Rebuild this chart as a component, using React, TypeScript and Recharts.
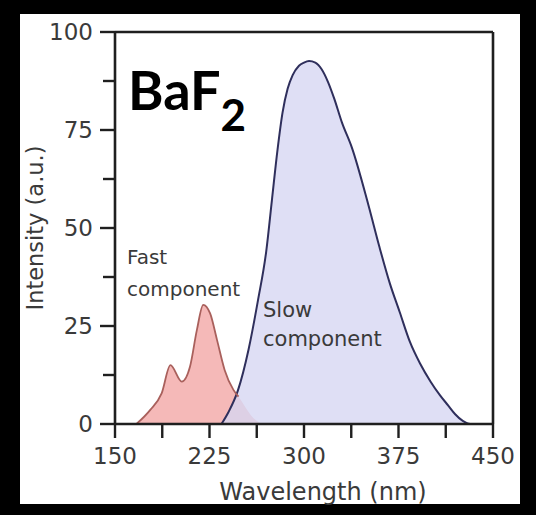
import React from 'react';
import { ComposedChart, Area, Line, XAxis, YAxis, ReferenceLine } from 'recharts';

// Fast (cross-luminescence) emission band of BaF2
const fastWavelength = [167, 178, 187, 194, 203, 209.5, 215, 220, 225.5, 231, 237, 244, 248, 253, 258, 263, 268];
const fastIntensity = [0, 3.6, 7.8, 15, 10.8, 14.6, 24, 30.4, 28.2, 21.4, 13.8, 8.7, 7, 4.5, 2.2, 0.7, 0];
// the fast outline disappears where the slow band covers it
const fastOutlineEnd = 248;

// Slow (self-trapped exciton) emission band
const slowWavelength = [234.5, 240, 247.5, 256, 263.5, 270, 274.5, 279, 283, 287, 291, 296, 300, 304, 309, 314, 319, 324, 330, 338, 351, 360, 368, 376, 384, 392, 400.5, 408, 414.5, 420, 426, 432, 450];
const slowIntensity = [0, 3, 8.5, 19, 31.6, 44, 57, 70, 79.5, 85.5, 89, 91.4, 92.2, 92.6, 92.2, 90.5, 87.3, 83, 77, 70.5, 56, 45, 36, 28.5, 21, 15.5, 10.8, 7.3, 4.7, 2.5, 0.8, 0, 0];

const xTicks = [150, 187.5, 225, 262.5, 300, 337.5, 375, 412.5, 450];
const xMajor = [150, 225, 300, 375, 450];
const yTicks = [0, 12.5, 25, 37.5, 50, 62.5, 75, 87.5, 100];
const yMajor = [0, 25, 50, 75, 100];

type Row = { w: number; fast?: number; fastLine?: number; slow?: number };

const rowMap = new Map<number, Row>();
fastWavelength.forEach((w, i) => {
  const r = rowMap.get(w) ?? { w };
  r.fast = fastIntensity[i];
  if (w <= fastOutlineEnd) r.fastLine = fastIntensity[i];
  rowMap.set(w, r);
});
slowWavelength.forEach((w, i) => {
  const r = rowMap.get(w) ?? { w };
  r.slow = slowIntensity[i];
  rowMap.set(w, r);
});
const rows = Array.from(rowMap.values()).sort((a, b) => a.w - b.w);

const AXIS = '#1f1f1f';
const TEXT = '#3a3a3a';
const FONT = '"DejaVu Sans", sans-serif';

const XTick = (props: any) => {
  const { x, y, payload } = props;
  const major = xMajor.includes(payload.value);
  return (
    <g>
      <line x1={x} x2={x} y1={y} y2={y + 14} stroke={AXIS} strokeWidth={2.4} />
      {major && (
        <text x={x} y={y + 40} textAnchor="middle" fontSize={23} fontFamily={FONT} fill={TEXT}>
          {payload.value}
        </text>
      )}
    </g>
  );
};

const YTick = (props: any) => {
  const { x, y, payload } = props;
  const major = yMajor.includes(payload.value);
  return (
    <g>
      <line x1={x - (major ? 15 : 12)} x2={x} y1={y} y2={y} stroke={AXIS} strokeWidth={2.4} />
      {major && (
        <text x={x - 22} y={y + 8} textAnchor="end" fontSize={23} fontFamily={FONT} fill={TEXT}>
          {payload.value}
        </text>
      )}
    </g>
  );
};

export default function App() {
  return (
    <div style={{ position: 'fixed', left: 0, top: 0, width: 536, height: 515, background: '#000', overflow: 'hidden' }}>
      <div style={{ position: 'absolute', left: 20, top: 14, width: 500, height: 490, background: '#fff' }} />
      <div style={{ position: 'absolute', left: 0, top: 0 }}>
        <ComposedChart width={536} height={515} data={rows} margin={{ top: 32, right: 43, bottom: 51, left: 55 }}>
          <XAxis
            dataKey="w"
            type="number"
            domain={[150, 450]}
            ticks={xTicks}
            interval={0}
            height={40}
            tickSize={0}
            tickMargin={0}
            tickLine={false}
            tick={<XTick />}
            axisLine={{ stroke: AXIS, strokeWidth: 2.6 }}
            allowDataOverflow
          />
          <YAxis
            type="number"
            domain={[0, 100]}
            ticks={yTicks}
            interval={0}
            width={60}
            tickSize={0}
            tickMargin={0}
            tickLine={false}
            tick={<YTick />}
            axisLine={{ stroke: AXIS, strokeWidth: 2.6 }}
            allowDataOverflow
          />
          <Area
            dataKey="fast"
            type="monotone"
            fill="#f5b9b8"
            fillOpacity={1}
            stroke="none"
            connectNulls
            isAnimationActive={false}
          />
          <Line
            dataKey="fastLine"
            type="monotone"
            stroke="#a9605c"
            strokeWidth={1.8}
            dot={false}
            connectNulls
            isAnimationActive={false}
          />
          <Area
            dataKey="slow"
            type="monotone"
            fill="#d6d6f2"
            fillOpacity={0.78}
            stroke="#2f2f5c"
            strokeWidth={2}
            connectNulls
            isAnimationActive={false}
          />
          <ReferenceLine y={100} stroke={AXIS} strokeWidth={2.6} />
          <ReferenceLine x={450} stroke={AXIS} strokeWidth={2.6} />
        </ComposedChart>
      </div>
      <svg width={536} height={515} style={{ position: 'absolute', left: 0, top: 0, pointerEvents: 'none' }}>
        <text x={323} y={500} textAnchor="middle" fontSize={24} fontFamily={FONT} fill={TEXT}>
          Wavelength (nm)
        </text>
        <text
          x={43}
          y={228}
          textAnchor="middle"
          fontSize={22.5}
          fontFamily={FONT}
          fill={TEXT}
          transform="rotate(-90 43 228)"
        >
          Intensity (a.u.)
        </text>
        <text x={128} y={110} fontSize={54} fontWeight={700} fontFamily='Lato, "Open Sans", sans-serif' fill="#000">
          BaF
          <tspan dy={21} fontSize={44}>2</tspan>
        </text>
        <text fontSize={20} fontFamily={FONT} fill={TEXT}>
          <tspan x={127} y={264}>Fast</tspan>
          <tspan x={127} y={296}>component</tspan>
        </text>
        <text fontSize={21} fontFamily={FONT} fill={TEXT}>
          <tspan x={263} y={317}>Slow</tspan>
          <tspan x={263} y={346}>component</tspan>
        </text>
      </svg>
    </div>
  );
}
